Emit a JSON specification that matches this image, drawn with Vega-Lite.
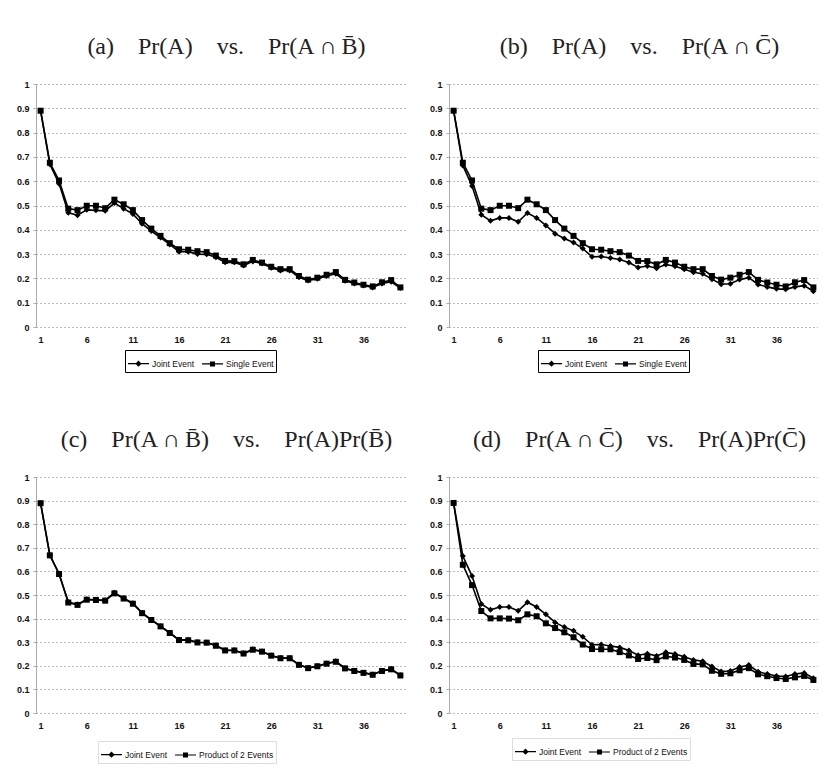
{
  "$schema": "https://vega.github.io/schema/vega-lite/v6.json",
  "background": "white",
  "padding": {"left": 16, "top": 35, "right": 0, "bottom": 0},
  "datasets": {
    "d": [
      {"x":1,"S":0.89,"JB":0.889,"PB":0.889,"JC":0.89,"PC":0.89},
      {"x":2,"S":0.676,"JB":0.67,"PB":0.668,"JC":0.665,"PC":0.628},
      {"x":3,"S":0.603,"JB":0.59,"PB":0.589,"JC":0.58,"PC":0.542},
      {"x":4,"S":0.487,"JB":0.47,"PB":0.468,"JC":0.462,"PC":0.432},
      {"x":5,"S":0.481,"JB":0.46,"PB":0.458,"JC":0.437,"PC":0.401},
      {"x":6,"S":0.499,"JB":0.482,"PB":0.48,"JC":0.449,"PC":0.401},
      {"x":7,"S":0.499,"JB":0.48,"PB":0.479,"JC":0.449,"PC":0.4},
      {"x":8,"S":0.489,"JB":0.478,"PB":0.476,"JC":0.433,"PC":0.393},
      {"x":9,"S":0.524,"JB":0.51,"PB":0.507,"JC":0.469,"PC":0.418},
      {"x":10,"S":0.505,"JB":0.487,"PB":0.485,"JC":0.449,"PC":0.41},
      {"x":11,"S":0.481,"JB":0.465,"PB":0.463,"JC":0.418,"PC":0.38},
      {"x":12,"S":0.44,"JB":0.425,"PB":0.423,"JC":0.384,"PC":0.36},
      {"x":13,"S":0.405,"JB":0.395,"PB":0.394,"JC":0.364,"PC":0.342},
      {"x":14,"S":0.375,"JB":0.368,"PB":0.367,"JC":0.348,"PC":0.321},
      {"x":15,"S":0.345,"JB":0.34,"PB":0.339,"JC":0.323,"PC":0.29},
      {"x":16,"S":0.32,"JB":0.31,"PB":0.309,"JC":0.289,"PC":0.271},
      {"x":17,"S":0.318,"JB":0.31,"PB":0.308,"JC":0.29,"PC":0.27},
      {"x":18,"S":0.312,"JB":0.3,"PB":0.299,"JC":0.284,"PC":0.27},
      {"x":19,"S":0.308,"JB":0.299,"PB":0.298,"JC":0.278,"PC":0.258},
      {"x":20,"S":0.294,"JB":0.287,"PB":0.285,"JC":0.265,"PC":0.244},
      {"x":21,"S":0.272,"JB":0.266,"PB":0.265,"JC":0.245,"PC":0.229},
      {"x":22,"S":0.271,"JB":0.266,"PB":0.265,"JC":0.251,"PC":0.233},
      {"x":23,"S":0.258,"JB":0.253,"PB":0.252,"JC":0.242,"PC":0.224},
      {"x":24,"S":0.276,"JB":0.27,"PB":0.268,"JC":0.257,"PC":0.24},
      {"x":25,"S":0.265,"JB":0.261,"PB":0.26,"JC":0.25,"PC":0.235},
      {"x":26,"S":0.248,"JB":0.244,"PB":0.243,"JC":0.238,"PC":0.225},
      {"x":27,"S":0.238,"JB":0.233,"PB":0.232,"JC":0.225,"PC":0.208},
      {"x":28,"S":0.238,"JB":0.233,"PB":0.232,"JC":0.219,"PC":0.206},
      {"x":29,"S":0.21,"JB":0.205,"PB":0.204,"JC":0.197,"PC":0.179},
      {"x":30,"S":0.195,"JB":0.191,"PB":0.19,"JC":0.176,"PC":0.166},
      {"x":31,"S":0.203,"JB":0.199,"PB":0.198,"JC":0.178,"PC":0.168},
      {"x":32,"S":0.215,"JB":0.21,"PB":0.209,"JC":0.195,"PC":0.181},
      {"x":33,"S":0.226,"JB":0.219,"PB":0.217,"JC":0.203,"PC":0.19},
      {"x":34,"S":0.194,"JB":0.19,"PB":0.189,"JC":0.175,"PC":0.164},
      {"x":35,"S":0.183,"JB":0.179,"PB":0.178,"JC":0.165,"PC":0.156},
      {"x":36,"S":0.174,"JB":0.171,"PB":0.17,"JC":0.157,"PC":0.148},
      {"x":37,"S":0.167,"JB":0.163,"PB":0.162,"JC":0.155,"PC":0.144},
      {"x":38,"S":0.184,"JB":0.179,"PB":0.178,"JC":0.165,"PC":0.151},
      {"x":39,"S":0.193,"JB":0.186,"PB":0.185,"JC":0.17,"PC":0.157},
      {"x":40,"S":0.163,"JB":0.16,"PB":0.159,"JC":0.147,"PC":0.14}
    ]
  },
  "config": {
    "font": "Liberation Sans",
    "view": {"stroke": null},
    "title": {"font": "Liberation Serif", "fontSize": 24, "fontWeight": "normal", "color": "#222", "offset": 21, "anchor": "middle", "dx": 6},
    "axis": {"labelFont": "Liberation Sans", "labelFontSize": 9, "labelFontWeight": "bold", "labelColor": "#111", "title": null},
    "axisX": {"grid": false, "domain": false, "ticks": false, "labelPadding": 8},
    "axisY": {"gridDash": [1, 3], "gridColor": "#777", "gridWidth": 1, "domainColor": "#aaa", "tickSize": 3, "tickColor": "#aaa", "labelPadding": 4},
    "legend": {"title": null, "strokeColor": "black", "padding": 2, "labelFont": "Liberation Sans", "labelFontSize": 8.5, "labelColor": "#111", "symbolSize": 441, "columnPadding": 4, "labelOffset": 2}
  },
  "spacing": 55,
  "resolve": {"scale": {"shape": "independent"}},
  "vconcat": [
    {
      "spacing": 24,
      "resolve": {"scale": {"shape": "independent"}},
      "hconcat": [
        {
          "width": 369, "height": 243,
          "title": "(a)\u2003Pr(A)\u2003vs.\u2003Pr(A\u2009∩\u2009B̄)",
          "data": {"name": "d"},
          "transform": [{"fold": ["JB", "S"], "as": ["series", "value"]}],
          "encoding": {
            "x": {"field": "x", "type": "quantitative", "scale": {"domain": [0.5, 40.5], "nice": false}, "axis": {"values": [1, 6, 11, 16, 21, 26, 31, 36]}},
            "y": {"field": "value", "type": "quantitative", "scale": {"domain": [0, 1]}, "axis": {"values": [0, 0.1, 0.2, 0.3, 0.4, 0.5, 0.6, 0.7, 0.8, 0.9, 1], "format": "~g"}}
          },
          "resolve": {"scale": {"shape": "independent"}},
          "layer": [
            {"mark": {"type": "line", "color": "black", "strokeWidth": 1.6}, "encoding": {"detail": {"field": "series"}}},
            {"mark": {"type": "point", "filled": true, "color": "black", "size": 36, "opacity": 1}, "encoding": {"shape": {"field": "series", "type": "nominal", "scale": {"domain": ["JB", "S"], "range": ["diamond", "square"]}, "legend": null}}},
            {"transform": [{"filter": "datum.x < 0"}], "mark": {"type": "point", "filled": true, "color": "black", "opacity": 1}, "encoding": {"shape": {"field": "series", "type": "nominal", "scale": {"domain": ["JB", "S"], "range": ["M-1,-0.06H1V0.06H-1ZM0,-0.3L0.3,0L0,0.3L-0.3,0Z", "M-1,-0.06H1V0.06H-1ZM-0.24,-0.24H0.24V0.24H-0.24Z"]},
              "legend": {"orient": "none", "legendX": 89, "legendY": 266, "direction": "horizontal",
                "labelExpr": "datum.label == 'S' ? 'Single Event' : datum.label[0] == 'J' ? 'Joint Event' : 'Product of 2 Events'"}}}}
          ]
        },
        {
          "width": 369, "height": 243,
          "title": "(b)\u2003Pr(A)\u2003vs.\u2003Pr(A\u2009∩\u2009C̄)",
          "data": {"name": "d"},
          "transform": [{"fold": ["JC", "S"], "as": ["series", "value"]}],
          "encoding": {
            "x": {"field": "x", "type": "quantitative", "scale": {"domain": [0.5, 40.5], "nice": false}, "axis": {"values": [1, 6, 11, 16, 21, 26, 31, 36]}},
            "y": {"field": "value", "type": "quantitative", "scale": {"domain": [0, 1]}, "axis": {"values": [0, 0.1, 0.2, 0.3, 0.4, 0.5, 0.6, 0.7, 0.8, 0.9, 1], "format": "~g"}}
          },
          "resolve": {"scale": {"shape": "independent"}},
          "layer": [
            {"mark": {"type": "line", "color": "black", "strokeWidth": 1.6}, "encoding": {"detail": {"field": "series"}}},
            {"mark": {"type": "point", "filled": true, "color": "black", "size": 36, "opacity": 1}, "encoding": {"shape": {"field": "series", "type": "nominal", "scale": {"domain": ["JC", "S"], "range": ["diamond", "square"]}, "legend": null}}},
            {"transform": [{"filter": "datum.x < 0"}], "mark": {"type": "point", "filled": true, "color": "black", "opacity": 1}, "encoding": {"shape": {"field": "series", "type": "nominal", "scale": {"domain": ["JC", "S"], "range": ["M-1,-0.06H1V0.06H-1ZM0,-0.3L0.3,0L0,0.3L-0.3,0Z", "M-1,-0.06H1V0.06H-1ZM-0.24,-0.24H0.24V0.24H-0.24Z"]},
              "legend": {"orient": "none", "legendX": 89, "legendY": 266, "direction": "horizontal",
                "labelExpr": "datum.label == 'S' ? 'Single Event' : datum.label[0] == 'J' ? 'Joint Event' : 'Product of 2 Events'"}}}}
          ]
        }
      ]
    },
    {
      "spacing": 24,
      "resolve": {"scale": {"shape": "independent"}},
      "hconcat": [
        {
          "width": 369, "height": 236,
          "title": "(c)\u2003Pr(A\u2009∩\u2009B̄)\u2003vs.\u2003Pr(A)Pr(B̄)",
          "data": {"name": "d"},
          "transform": [{"fold": ["JB", "PB"], "as": ["series", "value"]}],
          "encoding": {
            "x": {"field": "x", "type": "quantitative", "scale": {"domain": [0.5, 40.5], "nice": false}, "axis": {"values": [1, 6, 11, 16, 21, 26, 31, 36]}},
            "y": {"field": "value", "type": "quantitative", "scale": {"domain": [0, 1]}, "axis": {"values": [0, 0.1, 0.2, 0.3, 0.4, 0.5, 0.6, 0.7, 0.8, 0.9, 1], "format": "~g"}}
          },
          "resolve": {"scale": {"shape": "independent"}},
          "layer": [
            {"mark": {"type": "line", "color": "black", "strokeWidth": 1.6}, "encoding": {"detail": {"field": "series"}}},
            {"mark": {"type": "point", "filled": true, "color": "black", "size": 36, "opacity": 1}, "encoding": {"shape": {"field": "series", "type": "nominal", "scale": {"domain": ["JB", "PB"], "range": ["diamond", "square"]}, "legend": null}}},
            {"transform": [{"filter": "datum.x < 0"}], "mark": {"type": "point", "filled": true, "color": "black", "opacity": 1}, "encoding": {"shape": {"field": "series", "type": "nominal", "scale": {"domain": ["JB", "PB"], "range": ["M-1,-0.06H1V0.06H-1ZM0,-0.3L0.3,0L0,0.3L-0.3,0Z", "M-1,-0.04H1V0.04H-1ZM-0.24,-0.24H0.24V0.24H-0.24Z"]},
              "legend": {"orient": "none", "legendX": 62, "legendY": 264, "direction": "horizontal", "strokeColor": "#ddd",
                "labelExpr": "datum.label == 'S' ? 'Single Event' : datum.label[0] == 'J' ? 'Joint Event' : 'Product of 2 Events'"}}}}
          ]
        },
        {
          "width": 369, "height": 236,
          "title": "(d)\u2003Pr(A\u2009∩\u2009C̄)\u2003vs.\u2003Pr(A)Pr(C̄)",
          "data": {"name": "d"},
          "transform": [{"fold": ["JC", "PC"], "as": ["series", "value"]}],
          "encoding": {
            "x": {"field": "x", "type": "quantitative", "scale": {"domain": [0.5, 40.5], "nice": false}, "axis": {"values": [1, 6, 11, 16, 21, 26, 31, 36]}},
            "y": {"field": "value", "type": "quantitative", "scale": {"domain": [0, 1]}, "axis": {"values": [0, 0.1, 0.2, 0.3, 0.4, 0.5, 0.6, 0.7, 0.8, 0.9, 1], "format": "~g"}}
          },
          "resolve": {"scale": {"shape": "independent"}},
          "layer": [
            {"mark": {"type": "line", "color": "black", "strokeWidth": 1.6}, "encoding": {"detail": {"field": "series"}}},
            {"mark": {"type": "point", "filled": true, "color": "black", "size": 36, "opacity": 1}, "encoding": {"shape": {"field": "series", "type": "nominal", "scale": {"domain": ["JC", "PC"], "range": ["diamond", "square"]}, "legend": null}}},
            {"transform": [{"filter": "datum.x < 0"}], "mark": {"type": "point", "filled": true, "color": "black", "opacity": 1}, "encoding": {"shape": {"field": "series", "type": "nominal", "scale": {"domain": ["JC", "PC"], "range": ["M-1,-0.06H1V0.06H-1ZM0,-0.3L0.3,0L0,0.3L-0.3,0Z", "M-1,-0.04H1V0.04H-1ZM-0.24,-0.24H0.24V0.24H-0.24Z"]},
              "legend": {"orient": "none", "legendX": 63, "legendY": 261, "direction": "horizontal", "strokeColor": "#ddd",
                "labelExpr": "datum.label == 'S' ? 'Single Event' : datum.label[0] == 'J' ? 'Joint Event' : 'Product of 2 Events'"}}}}
          ]
        }
      ]
    }
  ]
}
